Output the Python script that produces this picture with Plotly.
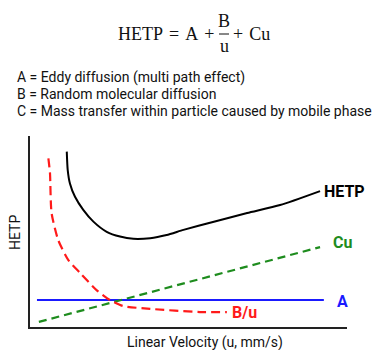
import plotly.graph_objects as go

# ---- data (u in arbitrary units, HETP in arbitrary units) ----
hetp_u = [1.16, 1.19, 1.26, 1.42, 1.68, 2.00, 2.42, 2.84, 3.26, 3.79, 4.31, 4.84, 5.77, 6.85, 7.89, 9.15]
hetp_y = [5.51, 4.93, 4.51, 4.09, 3.68, 3.31, 2.99, 2.84, 2.77, 2.79, 2.89, 3.05, 3.30, 3.58, 3.83, 4.27]

bu_u = [0.58, 0.63, 0.68, 0.89, 1.21, 1.58, 2.10, 2.52, 2.93, 3.79, 5.36, 6.21]
bu_y = [5.30, 4.84, 3.58, 2.73, 2.10, 1.70, 1.16, 0.85, 0.66, 0.57, 0.47, 0.47]

a_u = [0.22, 9.27]
a_y = [0.85, 0.85]

cu_u = [0.28, 9.15]
cu_y = [0.16, 2.51]

series_labels = ["HETP", "B/u", "A", "Cu"]
definitions = [
    "A = Eddy diffusion (multi path effect)",
    "B = Random molecular diffusion",
    "C = Mass transfer within particle caused by mobile phase",
]
x_title = "Linear Velocity (u, mm/s)"
y_title = "HETP"

W, H = 377, 350
L, R, T, B = 30, 30, 136, 23
PW, PH = W - L - R, H - T - B

def px(x):
    return (x - L) / PW

def py(y):
    return (H - B - y) / PH

RED = "#ff1a1a"
GREEN = "#1e8c1e"
BLUE = "#1a1aff"
BLACK = "#000000"

fig = go.Figure()
fig.add_trace(go.Scatter(x=a_u, y=a_y, mode="lines", line=dict(color=BLUE, width=2), hoverinfo="skip"))
fig.add_trace(go.Scatter(x=cu_u, y=cu_y, mode="lines", line=dict(color=GREEN, width=2.2, dash="8px,5px"), hoverinfo="skip"))
fig.add_trace(go.Scatter(x=bu_u, y=bu_y, mode="lines", line=dict(color=RED, width=2.2, dash="9px,5px", shape="spline", smoothing=0.6), hoverinfo="skip"))
fig.add_trace(go.Scatter(x=hetp_u, y=hetp_y, mode="lines", line=dict(color=BLACK, width=2, shape="spline", smoothing=0.6), hoverinfo="skip"))

ann = []
# curve labels
lab_font = dict(family="Roboto", size=16)
ann.append(dict(x=hetp_u[-1] + 0.05, y=hetp_y[-1], text="<b>" + series_labels[0] + "</b>", xanchor="left", yanchor="middle",
                font=dict(lab_font, color=BLACK)))
ann.append(dict(x=bu_u[-1] + 0.1, y=bu_y[-1], text="<b>" + series_labels[1] + "</b>", xanchor="left", yanchor="middle",
                font=dict(lab_font, color=RED)))
ann.append(dict(x=a_u[-1] + 0.35, y=a_y[-1] - 0.05, text="<b>" + series_labels[2] + "</b>", xanchor="left", yanchor="middle",
                font=dict(lab_font, color=BLUE)))
ann.append(dict(x=cu_u[-1] + 0.35, y=cu_y[-1] + 0.15, text="<b>" + series_labels[3] + "</b>", xanchor="left", yanchor="middle",
                font=dict(lab_font, color=GREEN)))
for a in ann:
    a.update(xref="x", yref="y", showarrow=False)

# equation
sp = "\u2004"
eq_font = dict(family="Liberation Serif", size=18, color="#111111")
ann.append(dict(x=px(216), y=py(34), text="HETP" + sp + "=" + sp + "A" + sp + "+", xanchor="right", yanchor="middle", font=eq_font))
ann.append(dict(x=px(224), y=py(21), text="B", xanchor="center", yanchor="middle", font=eq_font))
ann.append(dict(x=px(224), y=py(46), text="u", xanchor="center", yanchor="middle", font=eq_font))
ann.append(dict(x=px(231), y=py(34), text="+" + sp + "Cu", xanchor="left", yanchor="middle", font=eq_font))

# definitions
def_font = dict(family="Roboto", size=14, color="#111111")
for i, d in enumerate(definitions):
    ann.append(dict(x=px(15), y=py(77 + 16.8 * i), text=d, xanchor="left", yanchor="middle", font=def_font))

# axis titles
ann.append(dict(x=px(205), y=py(342), text=x_title, xanchor="center", yanchor="middle", font=def_font))
ann.append(dict(x=px(15), y=py(233), text=y_title, xanchor="center", yanchor="middle", textangle=-90, font=def_font))

for a in ann[4:]:
    a.update(xref="paper", yref="paper", showarrow=False)

fig.update_layout(
    width=W, height=H,
    margin=dict(l=L, r=R, t=T, b=B, pad=0),
    paper_bgcolor="white", plot_bgcolor="white",
    showlegend=False,
    annotations=ann,
    shapes=[dict(type="line", xref="paper", yref="paper", x0=px(219), x1=px(229), y0=py(34), y1=py(34),
                 line=dict(color="#111111", width=1))],
    xaxis=dict(range=[0, 10], showgrid=False, zeroline=False, showticklabels=False, ticks="",
               showline=True, linecolor="#222222", linewidth=1.5),
    yaxis=dict(range=[0, 6], showgrid=False, zeroline=False, showticklabels=False, ticks="",
               showline=True, linecolor="#222222", linewidth=1.5),
)

fig.write_html("out.html")
